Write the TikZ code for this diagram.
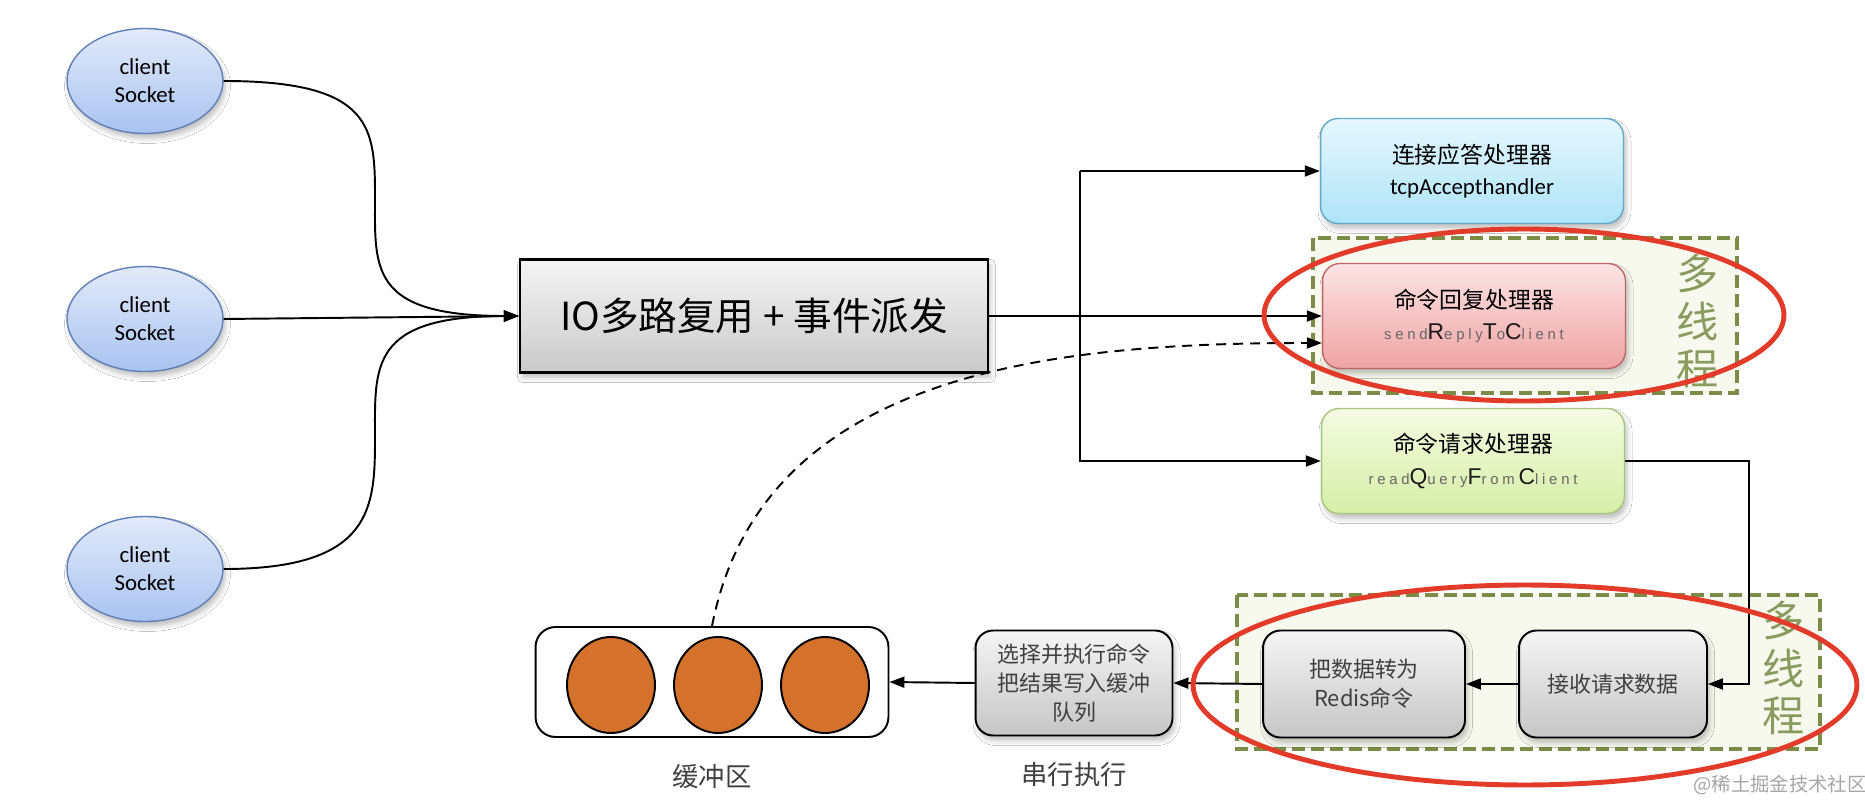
\documentclass[tikz,border=0pt]{standalone}
\usepackage{fontspec}
\setmainfont{Noto Sans CJK SC}
\newfontfamily\latinfont{Carlito}
\newfontfamily\thinfont{Liberation Sans}[LetterSpace=25]
\newfontfamily\capfont{Liberation Sans}
\usetikzlibrary{shapes.geometric, arrows.meta, positioning, calc, shadows.blur}
\definecolor{clienttop}{HTML}{E2EAFA}
\definecolor{clientbot}{HTML}{A9C3F0}
\definecolor{clientline}{HTML}{5F80B8}
\definecolor{tcptop}{HTML}{E6F7FD}
\definecolor{tcpbot}{HTML}{AEE3F7}
\definecolor{tcpline}{HTML}{63A9C9}
\definecolor{replytop}{HTML}{FCE4E4}
\definecolor{replybot}{HTML}{EFA3A3}
\definecolor{replyline}{HTML}{C06666}
\definecolor{querytop}{HTML}{F4FBE3}
\definecolor{querybot}{HTML}{D6EEA6}
\definecolor{queryline}{HTML}{A9C67A}
\definecolor{ballfill}{HTML}{D4722C}
\definecolor{ringred}{HTML}{E23B2A}
\definecolor{olive}{HTML}{7A8C46}
\definecolor{olivetext}{HTML}{8A9B5E}
\definecolor{olivebg}{HTML}{F7F9EF}
\newcommand{\lowtxt}[1]{{\thinfont\fontsize{8.5}{9}\selectfont\color{black!60}#1}}
\newcommand{\captxt}[1]{{\capfont\fontsize{13}{13}\selectfont\color{black!90}#1}}

\tikzset{
  softshadow/.style={blur shadow={shadow xshift=0.5mm, shadow yshift=-1mm,
      shadow opacity=25, shadow blur radius=1mm}},
  client/.style={ellipse, draw=clientline, line width=0.8pt, top color=clienttop,
      bottom color=clientbot, minimum width=3.12cm, minimum height=2.1cm,
      align=center, inner sep=0pt, font=\latinfont\fontsize{13}{16}\selectfont, softshadow},
  mainbox/.style={rectangle, draw=black, line width=1.3pt, top color=gray!8,
      bottom color=gray!42, minimum width=9.36cm, minimum height=2.26cm,
      font=\fontsize{22}{26}\selectfont, softshadow},
  handler/.style={rectangle, rounded corners=0.35cm, line width=0.8pt,
      minimum width=6.06cm, minimum height=2.1cm, align=center,
      font=\fontsize{13}{18}\selectfont, softshadow},
  stepbox/.style={rectangle, rounded corners=0.35cm, draw=black, line width=1.1pt,
      top color=gray!8, bottom color=gray!45, minimum height=2.14cm, align=center,
      text=black!75, font=\fontsize{12.5}{16.5}\selectfont, softshadow},
  ball/.style={ellipse, draw=black, line width=1.1pt, fill=ballfill,
      minimum width=1.76cm, minimum height=1.92cm},
  notelabel/.style={text=black!75, font=\fontsize{15}{18}\selectfont},
  threadlabel/.style={align=center, text=olivetext, font=\fontsize{24}{27}\selectfont},
  threadbox/.style={draw=olive, line width=2.3pt, dash pattern=on 0.26cm off 0.12cm,
      fill=olivebg},
  ring/.style={draw=ringred, line width=2.8pt},
  conn/.style={line width=1.1pt, -{Triangle[length=0.3cm, width=0.22cm]}},
  backconn/.style={line width=1.1pt, dash pattern=on 0.2cm off 0.14cm,
      -{Triangle[length=0.3cm, width=0.22cm]}}
}

\begin{document}
\begin{tikzpicture}[x=0.02cm, y=-0.02cm]
  \path[use as bounding box, fill=white] (0,0) rectangle (1865,803);

  % thread groups
  \draw[threadbox] (1313,238) rectangle (1737,393);
  \draw[threadbox] (1237,595) rectangle (1820,749);
  \node[threadlabel] (mt1) at (1698,321) {多\\线\\程};
  \node[threadlabel] (mt2) at (1784,668) {多\\线\\程};

  % clients and dispatcher
  \node[client] (c1) at (145,81) {client\\Socket};
  \node[client] (c2) at (145,319) {client\\Socket};
  \node[client] (c3) at (145,569) {client\\Socket};
  \node[mainbox] (io) at (754,316) {IO多路复用 + 事件派发};

  % handlers
  \node[handler, draw=tcpline, top color=tcptop, bottom color=tcpbot] (tcp) at (1472,171)
    {连接应答处理器\\{\latinfont tcpAccepthandler}};
  \node[handler, draw=replyline, top color=replytop, bottom color=replybot] (reply) at (1474,316)
    {命令回复处理器\\\lowtxt{send}\captxt{R}\lowtxt{eply}\captxt{T}\lowtxt{o}\captxt{C}\lowtxt{lient}};
  \node[handler, draw=queryline, top color=querytop, bottom color=querybot] (query) at (1473,461)
    {命令请求处理器\\\lowtxt{read}\captxt{Q}\lowtxt{uery}\captxt{F}\lowtxt{rom}\,\captxt{C}\lowtxt{lient}};

  % request pipeline
  \node[stepbox, minimum width=3.76cm] (recv) at (1613,684) {接收请求数据};
  \node[stepbox, minimum width=4.04cm] (conv) at (1364,684) {把数据转为\\Redis命令};
  \node[stepbox, minimum width=3.94cm, minimum height=2.1cm] (exec) at (1074,683)
    {选择并执行命令\\把结果写入缓冲\\队列};
  \node[notelabel, below=4mm of exec] (execlab) {串行执行};

  % buffer
  \node[rectangle, rounded corners=0.4cm, draw=black, line width=1.1pt, fill=white,
        minimum width=7.06cm, minimum height=2.2cm] (buf) at (712,682) {};
  \foreach \bx/\bn in {611/b1, 718/b2, 825/b3}
    \node[ball] (\bn) at (\bx,685) {};
  \node[notelabel, below=4mm of buf] (buflab) {缓冲区};

  % connectors
  \coordinate (k1) at (375,198);
  \coordinate (k3) at (375,437);
  \draw[conn] (c1.east) .. controls +(150,0) and +(0,-70) .. (k1)
                        .. controls +(0,70) and +(-150,0) .. (io.west);
  \draw[conn] (c2.east) -- (io.west);
  \draw[conn] (c3.east) .. controls +(150,0) and +(0,70) .. (k3)
                        .. controls +(0,-70) and +(-150,0) .. (io.west);

  \coordinate (split) at (1080,316);
  \draw[conn] (io.east) -- (reply.west);
  \draw[conn] (split |- tcp.west) -- (tcp.west);
  \draw[conn] (split |- tcp.west) -- (split |- query.west) -- (query.west);
  \draw[conn] (query.east) -- ++(124,0) |- (recv.east);
  \draw[conn] (recv.west) -- (conv.east);
  \draw[conn] (conv.west) -- (exec.east);
  \draw[conn] (exec.west) -- (buf.east);
  \draw[backconn] (buf.north) to[out=79, in=180] ([yshift=-0.54cm]reply.west);

  % highlight rings
  \draw[ring] (1524,315) ellipse [x radius=5.2cm, y radius=1.72cm];
  \draw[ring] (1525,685) ellipse [x radius=6.64cm, y radius=2.0cm];

  \node[text=black!35, font=\fontsize{11}{12}\selectfont] (mark) at (1780,785) {@稀土掘金技术社区};
\end{tikzpicture}
\end{document}
